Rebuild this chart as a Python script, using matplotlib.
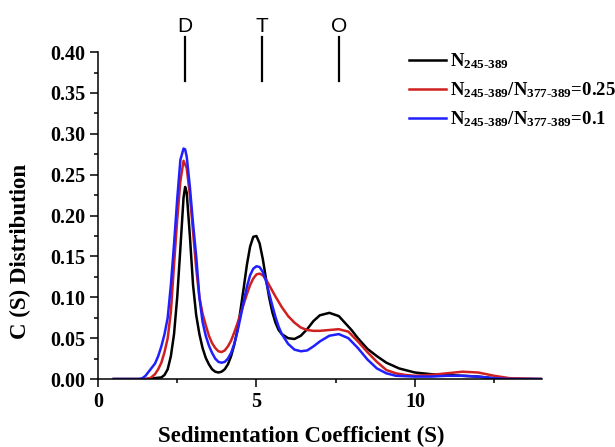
import matplotlib
matplotlib.use("Agg")
import matplotlib.pyplot as plt
from matplotlib.ticker import MultipleLocator, FormatStrFormatter

plt.rcParams['font.family'] = ['Liberation Serif', 'DejaVu Serif']
plt.rcParams['mathtext.fontset'] = 'custom'
plt.rcParams['mathtext.rm'] = 'Liberation Serif:bold'
plt.rcParams['mathtext.bf'] = 'Liberation Serif:bold'
plt.rcParams['mathtext.it'] = 'Liberation Serif:bold'

# dados (S, c(s))
s_black = [0.5, 1.5, 2.0, 2.1, 2.2, 2.3, 2.4, 2.5, 2.6, 2.7, 2.75, 2.8, 2.9, 3.0,
           3.1, 3.2, 3.3, 3.4, 3.5, 3.6, 3.7, 3.8, 3.9, 4.0, 4.1, 4.2, 4.3, 4.4,
           4.5, 4.6, 4.7, 4.8, 4.9, 5.0, 5.1, 5.2, 5.3, 5.4, 5.5, 5.6, 5.7, 5.8,
           6.0, 6.2, 6.4, 6.6, 6.8, 7.0, 7.3, 7.6, 8.0, 8.2, 8.5, 8.8, 9.1, 9.5,
           10.0, 10.5, 11.0, 11.5, 12.0, 12.5, 13.0, 14.0]
c_black = [0, 0, 0.002, 0.005, 0.012, 0.028, 0.055, 0.100, 0.160, 0.222, 0.235, 0.228, 0.175, 0.115,
           0.078, 0.055, 0.038, 0.026, 0.018, 0.012, 0.009, 0.008, 0.009, 0.012, 0.018, 0.028, 0.042, 0.060,
           0.085, 0.112, 0.140, 0.162, 0.174, 0.175, 0.166, 0.147, 0.123, 0.100, 0.082, 0.069, 0.060, 0.055,
           0.050, 0.049, 0.053, 0.061, 0.071, 0.078, 0.081, 0.077, 0.060, 0.050, 0.037, 0.028, 0.020, 0.013,
           0.008, 0.006, 0.005, 0.004, 0.003, 0.001, 0.0003, 0]

s_red = [0.5, 1.5, 1.65, 1.8, 1.9, 2.0, 2.1, 2.2, 2.3, 2.4, 2.5, 2.6, 2.7, 2.8, 2.9,
         3.0, 3.1, 3.2, 3.3, 3.4, 3.5, 3.6, 3.7, 3.8, 3.9, 4.0, 4.1, 4.2, 4.3, 4.4,
         4.5, 4.6, 4.7, 4.8, 4.9, 5.0, 5.1, 5.2, 5.3, 5.4, 5.6, 5.8, 6.0, 6.2, 6.4,
         6.6, 6.8, 7.0, 7.3, 7.6, 7.9, 8.2, 8.5, 8.8, 9.1, 9.4, 9.7, 10.0, 10.5,
         11.0, 11.5, 12.0, 12.5, 13.0, 14.0]
c_red = [0, 0, 0.001, 0.006, 0.012, 0.020, 0.033, 0.050, 0.082, 0.140, 0.195, 0.242, 0.267, 0.258, 0.225,
         0.180, 0.135, 0.100, 0.080, 0.066, 0.053, 0.044, 0.038, 0.034, 0.033, 0.035, 0.040, 0.047, 0.057, 0.068,
         0.080, 0.092, 0.104, 0.115, 0.123, 0.128, 0.129, 0.127, 0.122, 0.115, 0.101, 0.088, 0.077, 0.069, 0.063,
         0.060, 0.059, 0.059, 0.060, 0.061, 0.058, 0.046, 0.033, 0.021, 0.011, 0.007, 0.005, 0.004, 0.005,
         0.007, 0.009, 0.008, 0.004, 0.001, 0]

s_blue = [0.5, 1.3, 1.4, 1.5, 1.6, 1.7, 1.8, 1.9, 2.0, 2.1, 2.2, 2.3, 2.4, 2.5, 2.6,
          2.7, 2.75, 2.8, 2.9, 3.0, 3.1, 3.2, 3.3, 3.4, 3.5, 3.6, 3.7, 3.8, 3.9, 4.0,
          4.1, 4.2, 4.3, 4.4, 4.5, 4.6, 4.7, 4.8, 4.9, 5.0, 5.1, 5.2, 5.3, 5.4, 5.5,
          5.6, 5.7, 5.8, 6.0, 6.2, 6.4, 6.6, 6.8, 7.0, 7.3, 7.6, 7.9, 8.2, 8.5, 8.8,
          9.1, 9.4, 10.0, 10.5, 11.0, 11.5, 12.0, 12.5, 13.0, 14.0]
c_blue = [0, 0, 0.001, 0.004, 0.009, 0.014, 0.019, 0.028, 0.040, 0.055, 0.075, 0.115, 0.165, 0.220, 0.268,
          0.282, 0.281, 0.272, 0.235, 0.190, 0.150, 0.100, 0.070, 0.053, 0.041, 0.032, 0.025, 0.021, 0.020, 0.021,
          0.025, 0.032, 0.043, 0.058, 0.076, 0.095, 0.113, 0.127, 0.135, 0.138, 0.137, 0.131, 0.120, 0.105, 0.090,
          0.076, 0.064, 0.055, 0.043, 0.036, 0.034, 0.035, 0.040, 0.046, 0.053, 0.055, 0.050, 0.038, 0.024, 0.013,
          0.007, 0.004, 0.003, 0.003, 0.004, 0.004, 0.003, 0.001, 0, 0]

rotulos = [r'N$_{\rm 245\text{-}389}$',
           r'N$_{\rm 245\text{-}389}$/N$_{\rm 377\text{-}389}$=0.25',
           r'N$_{\rm 245\text{-}389}$/N$_{\rm 377\text{-}389}$=0.1']

picos_s = [2.75, 5.16, 7.6]
picos_nome = ['D', 'T', 'O']

fig = plt.figure(figsize=(6.15, 4.47), dpi=100)
ax = fig.add_axes([0.1593, 0.152, 0.7215, 0.7315])

ax.plot(s_black, c_black, color='k', lw=1.8, label=rotulos[0])
ax.plot(s_red, c_red, color='#d02020', lw=1.8, label=rotulos[1])
ax.plot(s_blue, c_blue, color='#2020ff', lw=1.8, label=rotulos[2])

# marcas D, T, O
for s, nome in zip(picos_s, picos_nome):
    ax.plot([s, s], [0.365, 0.419], color='k', lw=1.6, clip_on=False)
    ax.text(s, 0.4245, nome, ha='center', va='baseline', fontsize=15,
            family='Liberation Sans', clip_on=False)

ax.set_xlim(0, 14)
ax.set_ylim(0, 0.40)
ax.xaxis.set_major_locator(MultipleLocator(5))
ax.xaxis.set_minor_locator(MultipleLocator(2.5))
ax.yaxis.set_major_locator(MultipleLocator(0.05))
ax.yaxis.set_minor_locator(MultipleLocator(0.025))
ax.yaxis.set_major_formatter(FormatStrFormatter('%.2f'))

for lado in ['top', 'right']:
    ax.spines[lado].set_visible(False)
for lado in ['left', 'bottom']:
    ax.spines[lado].set_linewidth(1.1)

ax.tick_params(which='major', direction='out', length=5.5, width=1.1, labelsize=14.5)
ax.tick_params(which='minor', direction='out', length=3, width=1.1)
for lbl in ax.get_xticklabels() + ax.get_yticklabels():
    lbl.set_fontweight('bold')

ax.set_xlabel('Sedimentation Coefficient (S)', fontsize=16.5, fontweight='bold')
ax.set_ylabel('C (S) Distribution', fontsize=16.5, fontweight='bold')
ax.xaxis.set_label_coords(0.457, -0.142)
ax.yaxis.set_label_coords(-0.15, 0.39)

leg = ax.legend(loc='upper left', bbox_to_anchor=(0.684, 1.025), frameon=False,
                prop={'family': 'Liberation Serif', 'weight': 'bold', 'size': 13.5},
                handlelength=2.0, handletextpad=0.2, labelspacing=0.5, borderaxespad=0)

plt.savefig('out.png', dpi=100)
